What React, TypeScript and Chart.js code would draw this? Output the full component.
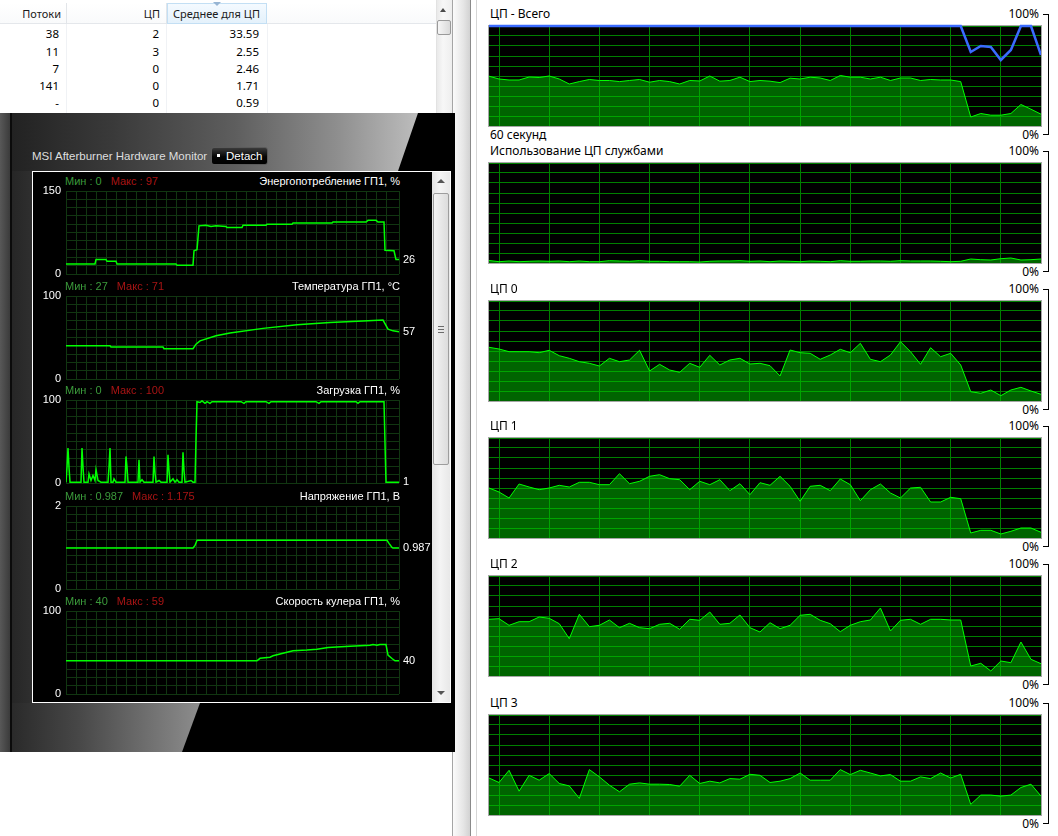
import React, { useEffect, useRef } from "react";
import { Chart, registerables } from "chart.js";

Chart.register(...registerables);

/* ---------------- data: process table ---------------- */
const tableHeaders = ["Потоки", "ЦП", "Среднее для ЦП"];
const tableThreads = ["38", "11", "7", "141", "-"];
const tableCpu = ["2", "3", "0", "0", "0"];
const tableAvgCpu = ["33.59", "2.55", "2.46", "1.71", "0.59"];

/* ---------------- data: MSI Afterburner ---------------- */
const msiWindowTitle = "MSI Afterburner Hardware Monitor";
const msiDetachLabel = "Detach";
const msiTitles = [
  "Энергопотребление ГП1, %",
  "Температура ГП1, °C",
  "Загрузка ГП1, %",
  "Напряжение ГП1, В",
  "Скорость кулера ГП1, %",
];
const msiMinLabels = ["Мин : 0", "Мин : 27", "Мин : 0", "Мин : 0.987", "Мин : 40"];
const msiMaxLabels = ["Макс : 97", "Макс : 71", "Макс : 100", "Макс : 1.175", "Макс : 59"];
const msiAxisMax = [150, 100, 100, 2, 100];
const msiCurrentText = ["26", "57", "1", "0.987", "40"];
const msiSampleSpan = 333;

const powerT = [0, 29, 30, 40, 41, 50, 51, 110, 111, 127, 128, 131, 133, 140, 145, 150, 160, 161, 176, 177, 200, 201, 226, 227, 266, 267, 300, 302, 310, 312, 318, 319, 328, 330, 333];
const powerV = [18, 18, 26, 26, 23, 23, 18, 18, 16, 16, 42, 44, 87, 88, 86, 87, 86, 84, 84, 88, 88, 90, 90, 92, 92, 94, 94, 97, 97, 94, 94, 43, 42, 26, 26];

const tempT = [0, 44, 45, 97, 98, 127, 130, 134, 150, 164, 197, 231, 264, 297, 317, 322, 327, 333];
const tempV = [40, 40, 38.5, 38.5, 36.5, 36.5, 42, 46, 52, 55.5, 61, 65.5, 68, 70, 71, 60, 58, 57];

const loadT = [0, 1, 2, 3, 4, 15, 16, 17, 18, 22, 23, 25, 27, 29, 30, 32, 35, 42, 43, 44, 45, 47, 48, 50, 59, 60, 61, 62, 72, 73, 74, 76, 78, 87, 88, 89, 90, 93, 95, 101, 102, 103, 104, 107, 109, 111, 113, 116, 117, 118, 119, 125, 127, 129, 130, 131, 134, 136, 139, 141, 144, 146, 150, 175, 178, 180, 200, 203, 205, 230, 250, 253, 255, 290, 292, 294, 318, 319, 320, 333];
const loadV = [1, 19, 42, 19, 1, 1, 42, 19, 1, 1, 11, 3, 9, 3, 16, 3, 1, 1, 19, 42, 1, 1, 5, 1, 1, 32, 19, 1, 1, 28, 1, 4, 1, 1, 32, 12, 1, 3, 1, 1, 34, 15, 1, 5, 1, 4, 1, 1, 37, 15, 1, 3, 1, 1, 52, 98, 97, 99, 96, 98, 96, 98, 98, 98, 96, 98, 98, 96, 98, 98, 98, 96, 98, 98, 96, 98, 98, 48, 1, 1];

const voltT = [0, 127, 129, 131, 321, 323, 326, 327, 333];
const voltV = [0.987, 0.987, 1.05, 1.175, 1.175, 1.1, 1.0, 0.987, 0.987];

const fanT = [0, 191, 194, 204, 207, 217, 227, 241, 251, 262, 284, 304, 307, 311, 314, 320, 322, 326, 329, 333];
const fanV = [40, 40, 43, 44.4, 46, 49, 52, 53, 54, 56, 57.6, 58.8, 59.6, 58.8, 59.6, 59.6, 46.8, 42.8, 40, 40];

const msiSeries = [
  { t: powerT, v: powerV },
  { t: tempT, v: tempV },
  { t: loadT, v: loadV },
  { t: voltT, v: voltV },
  { t: fanT, v: fanV },
];

/* ---------------- data: Resource monitor (CPU) ---------------- */
const tmTitles = ["ЦП - Всего", "Использование ЦП службами", "ЦП 0", "ЦП 1", "ЦП 2", "ЦП 3"];
const tmTopLabel = "100%";
const tmBottomLabel = "0%";
const tmTimeLabel = "60 секунд";
const tmGridSamples = [1, 6, 11, 16, 21, 26, 31, 36, 41, 46, 51];

const cpuTotal = [49.8, 47, 46, 46, 49, 48.5, 50, 47, 42, 44.4, 46.5, 45.5, 45.5, 44.4, 45.5, 46.5, 43.8, 45.5, 44.4, 42, 45.5, 45, 50, 44.8, 45.5, 48.8, 44.4, 45.5, 44.8, 43.4, 47.8, 47, 48.8, 48, 45.5, 50.5, 48.8, 48.8, 47, 48.8, 45.5, 48, 48, 45.5, 46.5, 46, 46, 44.4, 9, 12.5, 10.8, 10.8, 12.5, 21.5, 16.8, 11.8];
const cpuMaxFreq = [100, 100, 100, 100, 100, 100, 100, 100, 100, 100, 100, 100, 100, 100, 100, 100, 100, 100, 100, 100, 100, 100, 100, 100, 100, 100, 100, 100, 100, 100, 100, 100, 100, 100, 100, 100, 100, 100, 100, 100, 100, 100, 100, 100, 100, 100, 100, 100, 74, 80, 79, 66, 76, 100, 100, 71];
const cpuServices = [2.5, 1.3, 2, 1.3, 1.7, 2, 1.7, 2, 1.3, 2, 1.3, 1.3, 2.3, 2, 1.7, 2.3, 1.7, 1.7, 1.3, 1.3, 1.3, 1, 1.7, 2, 2, 2.3, 1.7, 2, 1.3, 2, 1.7, 1.3, 2, 1.7, 1.3, 2.3, 1.7, 1.7, 2, 2, 1.7, 2.3, 2, 2, 2, 1.7, 1.3, 1.7, 4, 3.3, 3, 4.3, 5, 3, 3.3, 4];
const cpu0 = [53.7, 52, 49.3, 49.3, 49.3, 48.3, 50.7, 45.3, 42.7, 39.3, 37.7, 35, 42.7, 39.3, 41, 50.7, 30, 36.7, 31, 28.7, 37.7, 33.7, 45.7, 36, 41, 42.7, 37, 37.7, 35.3, 25, 51, 48.3, 47.7, 41.7, 46, 51.7, 48.3, 57.7, 41.7, 39.3, 46, 59.3, 49.3, 36.7, 53.3, 44.3, 47.7, 36, 9.3, 7.7, 11, 5.3, 11, 13.7, 10, 6.7];
const cpu1 = [50, 46, 40, 54, 51, 48.3, 50, 52.7, 51, 55.7, 55.7, 53.3, 53.3, 64.3, 54.3, 56.7, 61.7, 63.3, 59.3, 58.3, 48.3, 56.7, 53.3, 58.3, 47.3, 54.3, 43.3, 55.3, 52.7, 61.7, 51.7, 36.7, 51.7, 52.7, 47.3, 59, 53.3, 37.3, 48.3, 54, 45, 40, 50, 50.7, 36, 36, 40.7, 39.3, 5, 7.7, 7.7, 4, 6.7, 10, 10, 5.7];
const cpu2 = [56.7, 57.3, 50.7, 54.3, 54.3, 59, 57.7, 52.3, 37.3, 61.7, 49.3, 50.7, 56, 48.3, 52.7, 48.3, 47.3, 51.7, 52.7, 46.7, 56.7, 55.7, 64, 51.7, 52.7, 61, 48.3, 44, 53.3, 47.3, 50.7, 60.7, 61.7, 55.7, 52.3, 44.3, 50.7, 54.3, 56, 68, 45, 55.7, 56.7, 51.7, 56.7, 56.7, 56, 56, 10, 12.7, 5, 15, 13.3, 34, 16.7, 12.3];
const cpu3 = [37, 32.5, 44.7, 23.8, 39.7, 34.8, 41.4, 31.5, 29.1, 16.6, 45.4, 38.1, 29.8, 23.2, 30.8, 32.1, 30.8, 30.8, 30.5, 28.8, 39.7, 31.5, 33.8, 32.1, 36.4, 35.8, 40.7, 39.7, 32.5, 33.8, 36.4, 42, 34.8, 34.8, 34.8, 45.4, 40.4, 44.7, 42, 39.1, 40.4, 33.8, 33.8, 38.1, 36.4, 42, 37, 40.7, 10.6, 19.9, 19.9, 18.9, 19.9, 27.5, 30.8, 18.9];

const tmSeries = [cpuTotal, cpuServices, cpu0, cpu1, cpu2, cpu3];

/* ---------------- layout ---------------- */
const PAGE_W = 1058;
const msiPlotTops = [191, 296, 400, 506, 611];
const tmInnerTops = [26, 163, 301, 438, 576, 715];
const MSI_FONT = "'Liberation Sans', Arial, sans-serif";
const UI_FONT = "'Noto Sans', 'Open Sans', sans-serif";

const lastValuePlugin: any = {
  id: "lastValue",
  afterDatasetsDraw(chart: any, _args: any, opts: any) {
    const ds = chart.data.datasets[0];
    const last = ds.data[ds.data.length - 1];
    const y = chart.scales.y.getPixelForValue(last.y);
    const ctx = chart.ctx;
    ctx.save();
    ctx.font = "11px " + MSI_FONT;
    ctx.fillStyle = "#ffffff";
    ctx.textBaseline = "middle";
    ctx.textAlign = "left";
    ctx.fillText(opts.text, chart.chartArea.right + 4, y);
    ctx.restore();
  },
};

function msiConfig(i: number): any {
  const s = msiSeries[i];
  const axisMax = msiAxisMax[i];
  const gridColor = "#113611";
  return {
    type: "line",
    data: {
      datasets: [
        {
          data: s.t.map((t, k) => ({ x: t, y: s.v[k] })),
          borderColor: "#00ff00",
          borderWidth: 1.5,
          pointRadius: 0,
          tension: 0,
          fill: false,
        },
      ],
    },
    options: {
      animation: false,
      responsive: false,
      devicePixelRatio: 1,
      events: [],
      layout: { padding: { top: 10, bottom: 10, left: 0, right: 33 } },
      plugins: {
        legend: { display: false },
        tooltip: { enabled: false },
        lastValue: { text: msiCurrentText[i] },
      },
      scales: {
        x: {
          type: "linear",
          min: 0,
          max: msiSampleSpan,
          afterFit: (sc: any) => {
            sc.height = 0;
            sc.paddingLeft = 0;
            sc.paddingRight = 0;
          },
          ticks: { display: false, stepSize: 10 },
          grid: { color: gridColor, lineWidth: 1, drawTicks: false },
          border: { display: false },
        },
        y: {
          type: "linear",
          min: 0,
          max: axisMax,
          afterFit: (sc: any) => {
            sc.width = 34;
            sc.paddingTop = 0;
            sc.paddingBottom = 0;
          },
          ticks: {
            stepSize: axisMax / 10,
            autoSkip: false,
            color: "#ffffff",
            padding: 5,
            font: { family: MSI_FONT, size: 11 },
            callback: (v: any, idx: number, arr: any[]) =>
              idx === 0 || idx === arr.length - 1 ? String(v) : "",
          },
          grid: { color: gridColor, lineWidth: 1, drawTicks: false },
          border: { display: false },
        },
      },
    },
    plugins: [lastValuePlugin],
  };
}

function tmConfig(i: number): any {
  const values = tmSeries[i];
  const datasets: any[] = [
    {
      data: values.map((v, k) => ({ x: k, y: v })),
      borderColor: "#00ff00",
      borderWidth: 1,
      backgroundColor: "rgba(0,200,0,0.5)",
      fill: "origin",
      pointRadius: 0,
      tension: 0,
      order: 1,
    },
  ];
  if (i === 0) {
    datasets.push({
      data: cpuMaxFreq.map((v, k) => ({ x: k, y: v })),
      borderColor: "#3a6bff",
      borderWidth: 2.5,
      fill: false,
      pointRadius: 0,
      tension: 0,
      clip: false,
      order: 0,
    });
  }
  const gridColor = "#008000";
  return {
    type: "line",
    data: { datasets },
    options: {
      animation: false,
      responsive: false,
      devicePixelRatio: 1,
      events: [],
      layout: { padding: { top: 2, bottom: 0, left: 0, right: 0 } },
      plugins: { legend: { display: false }, tooltip: { enabled: false } },
      scales: {
        x: {
          type: "linear",
          min: 0,
          max: values.length - 1,
          afterBuildTicks: (axis: any) => {
            axis.ticks = tmGridSamples.map((v) => ({ value: v }));
          },
          afterFit: (sc: any) => {
            sc.height = 0;
          },
          ticks: { display: false },
          grid: { color: gridColor, lineWidth: 1, drawTicks: false },
          border: { display: false },
        },
        y: {
          type: "linear",
          min: 0,
          max: 100,
          afterFit: (sc: any) => {
            sc.width = 0;
          },
          ticks: { display: false, stepSize: 10 },
          grid: { color: gridColor, lineWidth: 1, drawTicks: false },
          border: { display: false },
        },
      },
    },
  };
}

function ChartCanvas(props: { make: () => any; left: number; top: number; width: number; height: number }) {
  const ref = useRef<HTMLCanvasElement | null>(null);
  useEffect(() => {
    if (!ref.current) return;
    const chart = new Chart(ref.current, props.make());
    return () => chart.destroy();
  }, []);
  return (
    <canvas
      ref={ref}
      width={props.width}
      height={props.height}
      style={{ position: "absolute", left: props.left, top: props.top, width: props.width, height: props.height }}
    />
  );
}

function Txt(props: {
  x: number;
  y: number;
  text: string;
  color?: string;
  size?: number;
  font?: string;
  align?: "left" | "right";
}) {
  const style: any = {
    position: "absolute",
    top: props.y - 9,
    height: 18,
    lineHeight: "18px",
    whiteSpace: "nowrap",
    color: props.color || "#000",
    fontSize: props.size || 12,
    fontFamily: props.font || UI_FONT,
  };
  if (props.align === "right") style.right = PAGE_W - props.x;
  else style.left = props.x;
  return <div style={style}>{props.text}</div>;
}

function Box(props: { l: number; t: number; w: number; h: number; s?: any }) {
  return <div style={{ position: "absolute", left: props.l, top: props.t, width: props.w, height: props.h, ...(props.s || {}) }} />;
}

function ProcessTable() {
  const colRights = [61, 160, 260];
  const valueRights = [59, 159, 259];
  const rowCenters = [34, 52, 69, 86, 103];
  const cols = [tableThreads, tableCpu, tableAvgCpu];
  return (
    <>
      <Box l={0} t={3} w={436} h={21} s={{ background: "linear-gradient(#ffffff, #f9fafb)", borderBottom: "1px solid #e4e7eb", boxSizing: "border-box" }} />
      <Box l={167} t={3} w={100} h={21} s={{ background: "linear-gradient(#f4faff, #e4f1fb)", border: "1px solid #c3dff4", boxSizing: "border-box" }} />
      <div style={{ position: "absolute", left: 213, top: 2, width: 0, height: 0, borderLeft: "4px solid transparent", borderRight: "4px solid transparent", borderTop: "4px solid #98b5d3" }} />
      <Box l={66} t={3} w={1} h={21} s={{ background: "#e2e5e9" }} />
      <Box l={166} t={3} w={1} h={21} s={{ background: "#e2e5e9" }} />
      <Box l={66} t={24} w={1} h={90} s={{ background: "#f0f2f5" }} />
      <Box l={166} t={24} w={1} h={90} s={{ background: "#f0f2f5" }} />
      <Box l={267} t={24} w={1} h={90} s={{ background: "#f0f2f5" }} />
      {tableHeaders.map((h, i) => (
        <Txt key={h} x={colRights[i]} y={14} text={h} align="right" size={11} color="#1b1b1b" />
      ))}
      {cols.map((col, c) =>
        col.map((v, r) => <Txt key={c + "-" + r} x={valueRights[c]} y={rowCenters[r]} text={v} align="right" size={11.5} />)
      )}
      {/* list scrollbar */}
      <Box l={436} t={0} w={16} h={113} s={{ background: "linear-gradient(to right, #e9e9e9, #f7f7f7 40%, #eeeeee)", borderLeft: "1px solid #e2e2e2", boxSizing: "border-box" }} />
      <div style={{ position: "absolute", left: 440, top: 8, width: 0, height: 0, borderLeft: "3.5px solid transparent", borderRight: "3.5px solid transparent", borderBottom: "4px solid #4a4a4a" }} />
      <Box l={437} t={20} w={14} h={15} s={{ background: "linear-gradient(to right, #f6f6f6, #dadada)", border: "1px solid #9a9a9a", borderRadius: 2, boxSizing: "border-box" }} />
    </>
  );
}

function Splitter() {
  return (
    <>
      <Box l={452} t={0} w={1} h={836} s={{ background: "#a5a5a5" }} />
      <Box l={453} t={0} w={17} h={836} s={{ background: "linear-gradient(to right, #fbfbfb, #e6e6e6 60%, #d2d2d2)" }} />
      <Box l={470} t={0} w={1} h={836} s={{ background: "#8a8a8a" }} />
      <Box l={476} t={0} w={1} h={836} s={{ background: "#d6d6d6" }} />
    </>
  );
}

function MsiWindow() {
  return (
    <>
      <Box l={0} t={113} w={455} h={639} s={{ background: "#000" }} />
      <Box l={0} t={113} w={10} h={639} s={{ background: "linear-gradient(to right, #585858, #3b3b3b)" }} />
      <Box l={10} t={113} w={2} h={639} s={{ background: "#0b0b0b" }} />
      <Box l={12} t={113} w={20} h={590} s={{ background: "linear-gradient(to right, #262626, #2f2f2f)" }} />
      <Box
        l={12}
        t={113}
        w={406}
        h={58}
        s={{
          background: "linear-gradient(to right, #222222, #3a3a3a 25%, #5e5e5e 55%, #8e8e8e 80%, #bdbdbd)",
          clipPath: "polygon(0 0, 100% 0, calc(100% - 20px) 100%, 0 100%)",
        }}
      />
      <Box
        l={12}
        t={703}
        w={188}
        h={49}
        s={{
          background: "linear-gradient(to right, #2a2a2a, #474747 35%, #8d8d8d)",
          clipPath: "polygon(0 0, 100% 0, calc(100% - 18px) 100%, 0 100%)",
        }}
      />
      <Txt x={32} y={156} text={msiWindowTitle} color="#dedede" size={11.5} font={MSI_FONT} />
      <div
        style={{
          position: "absolute",
          left: 211,
          top: 147,
          width: 57,
          height: 18,
          boxSizing: "border-box",
          borderRadius: 3,
          border: "1px solid #5a5a5a",
          background: "linear-gradient(#3a3a3a, #050505 55%, #000)",
        }}
      />
      <Box l={217} t={154} w={3} h={3} s={{ background: "#ffffff" }} />
      <Txt x={226} y={156} text={msiDetachLabel} color="#ffffff" size={11.5} font={MSI_FONT} />
      {/* monitor panel */}
      <Box l={32} t={171} w={419} h={532} s={{ border: "1px solid #ffffff", background: "#000", boxSizing: "border-box" }} />
      {/* panel scrollbar */}
      <Box l={432} t={172} w={18} h={530} s={{ background: "linear-gradient(to right, #e4e4e4, #f4f4f4 45%, #e8e8e8)" }} />
      <div style={{ position: "absolute", left: 437, top: 179, width: 0, height: 0, borderLeft: "4px solid transparent", borderRight: "4px solid transparent", borderBottom: "4px solid #555" }} />
      <div style={{ position: "absolute", left: 437, top: 691, width: 0, height: 0, borderLeft: "4px solid transparent", borderRight: "4px solid transparent", borderTop: "4px solid #555" }} />
      <Box l={433} t={193} w={16} h={272} s={{ background: "linear-gradient(to right, #f3f3f3, #dcdcdc)", border: "1px solid #9d9d9d", borderRadius: 2, boxSizing: "border-box" }} />
      <Box l={438} t={326} w={6} h={1} s={{ background: "#6b6b6b" }} />
      <Box l={438} t={329} w={6} h={1} s={{ background: "#6b6b6b" }} />
      <Box l={438} t={332} w={6} h={1} s={{ background: "#6b6b6b" }} />
      {msiTitles.map((title, i) => {
        const top = msiPlotTops[i];
        return (
          <React.Fragment key={title}>
            <div
              style={{
                position: "absolute",
                left: 65,
                top: top - 19,
                height: 18,
                lineHeight: "18px",
                whiteSpace: "nowrap",
                fontFamily: MSI_FONT,
                fontSize: 11,
                display: "flex",
                gap: 9,
              }}
            >
              <span style={{ color: "#3b9a3b" }}>{msiMinLabels[i]}</span>
              <span style={{ color: "#a81414" }}>{msiMaxLabels[i]}</span>
            </div>
            <Txt x={400} y={top - 10} text={title} align="right" color="#ffffff" size={11} font={MSI_FONT} />
            <ChartCanvas make={() => msiConfig(i)} left={32} top={top - 10} width={400} height={103} />
          </React.Fragment>
        );
      })}
    </>
  );
}

function TaskPanels() {
  return (
    <>
      {tmTitles.map((title, i) => {
        const top = tmInnerTops[i];
        return (
          <React.Fragment key={title}>
            <Txt x={490} y={top - 12} text={title} />
            <Txt x={1039} y={top - 12} text={tmTopLabel} align="right" />
            <Txt x={1039} y={top + 109} text={tmBottomLabel} align="right" />
            {i === 0 && <Txt x={490} y={top + 109} text={tmTimeLabel} />}
            <Box l={1043} t={top - 12} w={6} h={1} s={{ background: "#000" }} />
            <Box l={1048} t={top - 12} w={1} h={121} s={{ background: "#000" }} />
            <Box l={1043} t={top + 108} w={6} h={1} s={{ background: "#000" }} />
            <Box l={488} t={top - 1} w={554} h={102} s={{ border: "1px solid #a6a6a6", background: "#000", boxSizing: "border-box" }} />
            <ChartCanvas make={() => tmConfig(i)} left={489} top={top - 2} width={552} height={102} />
          </React.Fragment>
        );
      })}
    </>
  );
}

export default function App() {
  return (
    <div
      style={{
        position: "absolute",
        left: 0,
        top: 0,
        width: PAGE_W,
        height: 836,
        background: "#ffffff",
        overflow: "hidden",
        fontFamily: UI_FONT,
      }}
    >
      <ProcessTable />
      <Splitter />
      <MsiWindow />
      <TaskPanels />
    </div>
  );
}
